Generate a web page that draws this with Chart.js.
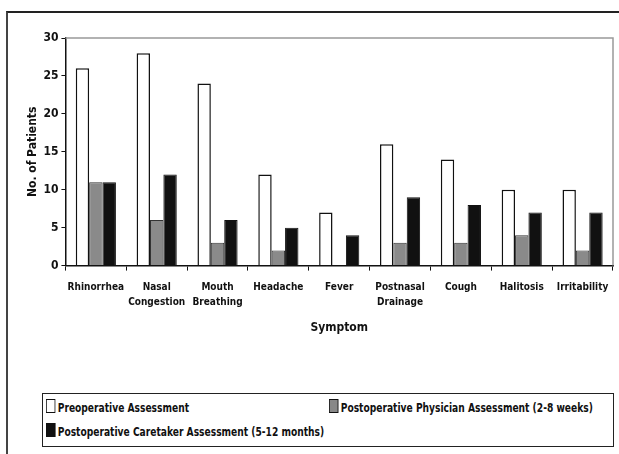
<!DOCTYPE html>
<html>
<head>
<meta charset="utf-8">
<script src="https://cdn.jsdelivr.net/npm/chart.js@4/dist/chart.umd.min.js"></script>
<style>
  body { margin: 0; background: #fff; width: 619px; height: 454px; overflow: hidden; position: relative;
         font-family: "DejaVu Sans Condensed", "Liberation Sans", Arial, sans-serif; }
  #frame { position: absolute; left: 6px; top: 11px; width: 640px; height: 460px;
           border-top: 2px solid #222; border-left: 2px solid #444; }
  #wrap { position: absolute; left: 0; top: 0; width: 619px; height: 343px; }
  #legenda { position: absolute; left: 42px; top: 393px; width: 570px; height: 52px;
             border: 1.5px solid #222; font-weight: bold; font-size: 13px; color: #111; }
  .item { position: absolute; white-space: nowrap; transform: scaleX(0.78); transform-origin: left center; }
  .sw { display: inline-block; width: 10px; height: 12px; border: 1px solid #111; margin-right: 3px; vertical-align: -1px; }
</style>
</head>
<body>
<div id="frame"></div>
<div id="wrap"><canvas id="grafico"></canvas></div>
<div id="legenda">
  <div class="item" style="left:3px;top:5px"><span class="sw" style="background:#fff"></span>Preoperative Assessment</div>
  <div class="item" style="left:286px;top:5px"><span class="sw" style="background:#888"></span>Postoperative Physician Assessment (2-8 weeks)</div>
  <div class="item" style="left:3px;top:29px"><span class="sw" style="background:#111"></span>Postoperative Caretaker Assessment (5-12 months)</div>
</div>
<script>
const sintomas = ["Rhinorrhea", ["Nasal", "Congestion"], ["Mouth", "Breathing"], "Headache", "Fever",
  ["Postnasal", "Drainage"], "Cough", "Halitosis", "Irritability"];
const preop = [26, 28, 24, 12, 7, 16, 14, 10, 10];
const medico = [11, 6, 3, 2, 0, 3, 3, 4, 2];
const cuidador = [11, 12, 6, 5, 4, 9, 8, 7, 7];
const ticksY = [0, 5, 10, 15, 20, 25, 30];

const fonte = "'DejaVu Sans Condensed', 'Liberation Sans', Arial, sans-serif";

// borda cinza em cima e a direita da area do grafico
const bordaPlot = {
  id: "bordaPlot",
  afterDraw(chart) {
    const a = chart.chartArea;
    const ctx = chart.ctx;
    ctx.save();
    ctx.strokeStyle = "#999";
    ctx.lineWidth = 1.5;
    ctx.beginPath();
    ctx.moveTo(a.left, a.top);
    ctx.lineTo(a.right, a.top);
    ctx.lineTo(a.right, a.bottom);
    ctx.stroke();
    ctx.restore();
  }
};

new Chart(document.getElementById("grafico"), {
  type: "bar",
  data: {
    labels: sintomas,
    datasets: [
      { label: "Preoperative Assessment", data: preop, backgroundColor: "#fff", borderColor: "#111", borderWidth: 1.5 },
      { label: "Postoperative Physician Assessment (2-8 weeks)", data: medico, backgroundColor: "#8a8a8a", borderColor: "#333", borderWidth: 1 },
      { label: "Postoperative Caretaker Assessment (5-12 months)", data: cuidador, backgroundColor: "#111", borderColor: "#111", borderWidth: 1 }
    ]
  },
  options: {
    responsive: true,
    maintainAspectRatio: false,
    animation: false,
    layout: { padding: { top: 38, right: 6, left: 24, bottom: 4 } },
    plugins: { legend: { display: false }, tooltip: { enabled: false } },
    datasets: { bar: { categoryPercentage: 0.66, barPercentage: 1 } },
    scales: {
      x: {
        grid: { drawOnChartArea: false, drawTicks: true, tickLength: 5, color: "#111", lineWidth: 1 },
        border: { color: "#111", width: 1.5 },
        ticks: { color: "#111", font: { family: fonte, size: 10, weight: "bold", lineHeight: 1.5 }, maxRotation: 0, autoSkip: false, padding: 9 },
        title: { display: true, text: "Symptom", color: "#111", font: { family: fonte, size: 12, weight: "bold" }, padding: { top: 2 } }
      },
      y: {
        min: 0, max: 30,
        afterBuildTicks(axis) { axis.ticks = ticksY.map(v => ({ value: v })); },
        grid: { drawOnChartArea: false, drawTicks: true, tickLength: 4, color: "#111" },
        border: { color: "#111", width: 1.5 },
        ticks: { color: "#111", font: { family: fonte, size: 12, weight: "bold" }, padding: 3 },
        title: { display: true, text: "No. of Patients", color: "#111", font: { family: fonte, size: 12, weight: "bold" }, padding: { top: 2, bottom: 0 } }
      }
    }
  },
  plugins: [bordaPlot]
});
</script>
</body>
</html>
